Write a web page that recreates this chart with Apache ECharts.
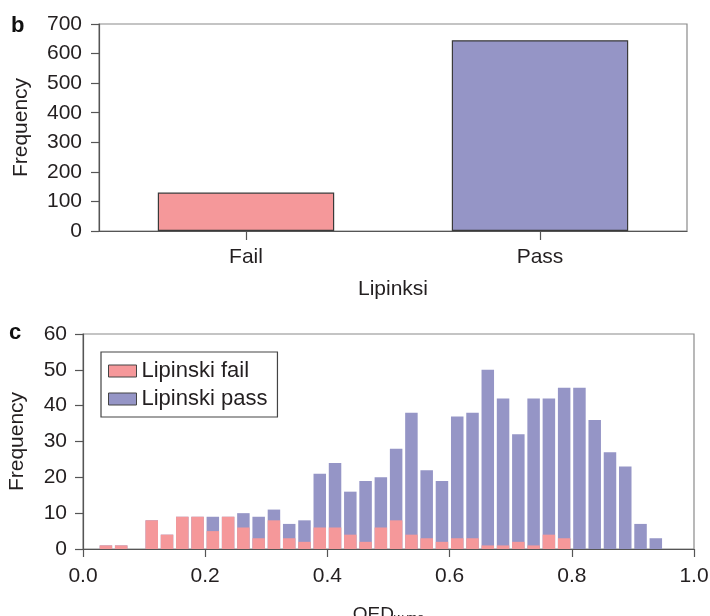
<!DOCTYPE html>
<html>
<head>
<meta charset="utf-8">
<script src="https://cdn.jsdelivr.net/npm/echarts@6/dist/echarts.min.js"></script>
<style>
html,body{margin:0;padding:0;background:#fff;}
#chart{width:710px;height:616px;}
</style>
</head>
<body>
<div id="chart"></div>
<script>
// Panel b: Lipinski pass/fail totals
const lipCategories = ['Fail', 'Pass'];
const lipCounts = [130, 645];

// Panel c: histogram of QED (bin starts, width 0.025), stacked counts
const binWidth = 0.025;
const binStarts = [0.025,0.05,0.075,0.1,0.125,0.15,0.175,0.2,0.225,0.25,
  0.275,0.3,0.325,0.35,0.375,0.4,0.425,0.45,0.475,0.5,
  0.525,0.55,0.575,0.6,0.625,0.65,0.675,0.7,0.725,0.75,
  0.775,0.8,0.825,0.85,0.875,0.9,0.925];
const failCounts = [1,1,0,8,4,9,9,5,9,6, 3,8,3,2,6,6,4,2,6,8, 4,3,2,3,3,1,1,2,1,4, 3,0,0,0,0,0,0];
const passCounts = [0,0,0,0,0,0,0,4,0,4, 6,3,4,6,15,18,12,17,14,20, 34,19,17,34,35,49,41,30,41,38, 42,45,36,27,23,7,3];
const xTicks = [0, 0.2, 0.4, 0.6, 0.8, 1.0];

const FONT = 'Liberation Sans, Arial, Helvetica, sans-serif';
const TXT = '#231f20';
const PINK = '#f5989a';
const LAV = '#9595c6';

const chart = echarts.init(document.getElementById('chart'), null, {renderer: 'canvas'});

const centers = binStarts.map(s => +(s + binWidth / 2).toFixed(4));
// stacked: pass sits on top of fail, so the pass bar reaches fail + pass
const stackTops = failCounts.map((f, i) => f + passCounts[i]);

const axisCommon = {
  axisLine: {show: true, lineStyle: {color: '#555', width: 1.2}},
  axisTick: {show: true, length: 8, lineStyle: {color: '#555', width: 1.2}},
  axisLabel: {color: TXT, fontSize: 21, fontFamily: FONT},
  nameTextStyle: {color: TXT, fontSize: 21, fontFamily: FONT},
  splitLine: {show: false}
};

chart.setOption({
  animation: false,
  textStyle: {fontFamily: FONT},
  grid: [
    {left: 99, top: 24, width: 588, height: 207, show: true, borderColor: '#8a8a8a', borderWidth: 1.2, containLabel: false, outerBoundsMode: 'none'},
    {left: 83, top: 334, width: 611, height: 215, show: true, borderColor: '#8a8a8a', borderWidth: 1.2, containLabel: false, outerBoundsMode: 'none'}
  ],
  xAxis: [
    Object.assign({}, axisCommon, {
      gridIndex: 0, type: 'category', data: lipCategories,
      axisTick: {show: true, alignWithLabel: true, length: 9, lineStyle: {color: '#555', width: 1.2}},
      axisLabel: Object.assign({}, axisCommon.axisLabel, {margin: 16}),
      name: 'Lipinksi', nameLocation: 'middle', nameGap: 48
    }),
    Object.assign({}, axisCommon, {
      gridIndex: 1, type: 'value', min: 0, max: 1, interval: 0.2,
      axisLabel: Object.assign({}, axisCommon.axisLabel, {margin: 17, formatter: v => v.toFixed(1)}),
      name: '{a|QED}{b|w,mo}', nameLocation: 'middle', nameGap: 56,
      nameTextStyle: {color: TXT, fontFamily: FONT, rich: {
        a: {fontSize: 19, fontFamily: FONT, color: TXT, verticalAlign: 'top'},
        b: {fontSize: 13, fontFamily: FONT, color: TXT, verticalAlign: 'top', padding: [7, 0, 0, 0]}
      }}
    })
  ],
  yAxis: [
    Object.assign({}, axisCommon, {
      gridIndex: 0, type: 'value', min: 0, max: 700, interval: 100,
      axisLabel: Object.assign({}, axisCommon.axisLabel, {margin: 17}),
      name: 'Frequency', nameLocation: 'middle', nameGap: 67
    }),
    Object.assign({}, axisCommon, {
      gridIndex: 1, type: 'value', min: 0, max: 60, interval: 10,
      axisLabel: Object.assign({}, axisCommon.axisLabel, {margin: 16}),
      name: 'Frequency', nameLocation: 'middle', nameGap: 55
    })
  ],
  legend: {
    show: true, orient: 'vertical', left: 101, top: 352,
    data: ['Lipinski fail', 'Lipinski pass'],
    icon: 'rect', itemWidth: 28, itemHeight: 12, itemGap: 6,
    padding: [8, 10, 7, 7],
    borderColor: '#444', borderWidth: 1.2, borderRadius: 0,
    itemStyle: {borderColor: '#444', borderWidth: 1},
    textStyle: {color: TXT, fontSize: 22, fontFamily: FONT, lineHeight: 22}
  },
  series: [
    {
      name: 'Lipinksi', type: 'bar', xAxisIndex: 0, yAxisIndex: 0, barWidth: '60%',
      data: lipCounts.map((v, i) => ({value: v, itemStyle: {color: i === 0 ? PINK : LAV}})),
      itemStyle: {borderColor: '#3a3a3a', borderWidth: 1.2}
    },
    {
      name: 'Lipinski pass', type: 'bar', xAxisIndex: 1, yAxisIndex: 1,
      barWidth: 12.5, itemStyle: {color: LAV},
      data: centers.map((c, i) => [c, stackTops[i]])
    },
    {
      name: 'Lipinski fail', type: 'bar', xAxisIndex: 1, yAxisIndex: 1,
      barWidth: 12.5, barGap: '-100%', itemStyle: {color: PINK},
      data: centers.map((c, i) => [c, failCounts[i]])
    }
  ],
  graphic: [
    {type: 'text', left: 11, top: 15, style: {text: 'b', font: 'bold 22px ' + FONT, fill: '#111'}},
    {type: 'text', left: 9, top: 322, style: {text: 'c', font: 'bold 22px ' + FONT, fill: '#111'}}
  ]
});
</script>
</body>
</html>
